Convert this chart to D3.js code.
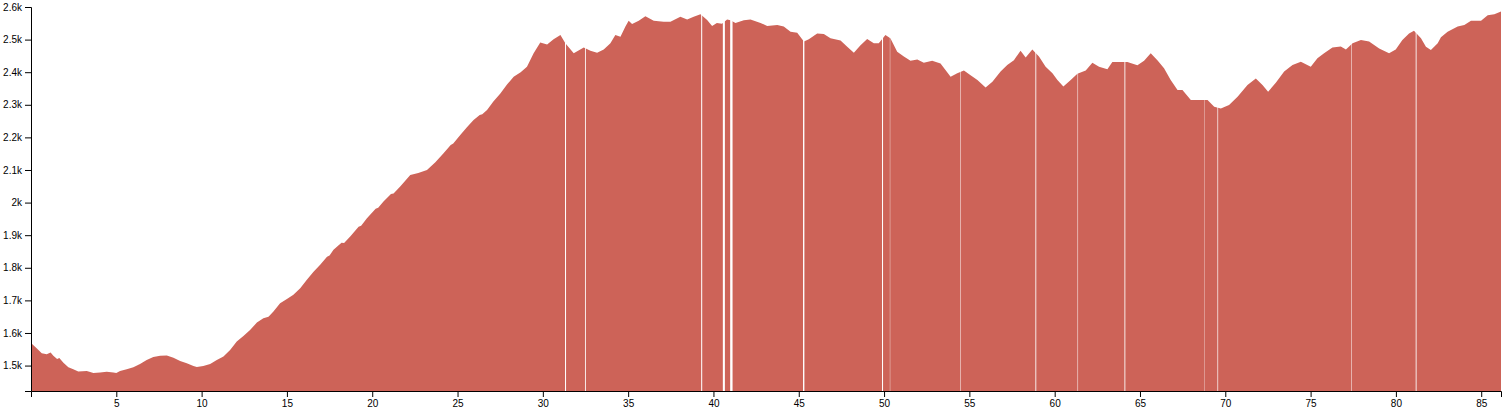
<!DOCTYPE html>
<html>
<head>
<meta charset="utf-8">
<script src="https://cdn.jsdelivr.net/npm/d3@7/dist/d3.min.js"></script>
<style>
  html, body { margin: 0; padding: 0; background: #fff; }
  svg { display: block; }
</style>
</head>
<body>
<svg id="chart" width="1503" height="413"></svg>
<script>
// distance along route (km)
const distance = [
  0, 0.33, 0.63, 0.92, 1.15, 1.31, 1.53, 1.66, 1.9, 2.19, 2.48, 2.77, 3.27, 3.66, 4.05, 4.44, 4.83, 5.0,
  5.22, 5.61, 6.0, 6.39, 6.78, 7.17, 7.57, 7.96, 8.35, 8.74, 9.13, 9.52, 9.72, 10.1, 10.5, 10.89, 11.28,
  11.67, 12.06, 12.45, 12.84, 13.24, 13.62, 13.92, 14.21, 14.6, 15.0, 15.38, 15.78, 16.17, 16.56, 16.95,
  17.35, 17.5, 17.73, 18.2, 18.35, 18.71, 19.2, 19.35, 19.69, 20.2, 20.35, 20.66, 21.1, 21.25, 21.64, 22.23,
  22.7, 23.21, 23.7, 24.18, 24.6, 24.75, 25.16, 25.55, 25.94, 26.3, 26.45, 26.73, 27.1, 27.51, 27.9, 28.29,
  28.7, 29.07, 29.46, 29.85, 30.25, 30.63, 31.03, 31.32, 31.81, 32.4, 32.79, 33.18, 33.57, 33.96, 34.25,
  34.55, 34.84, 35.03, 35.23, 35.62, 36.01, 36.5, 37.08, 37.48, 38.06, 38.46, 38.84, 39.24, 39.63, 39.92,
  40.2, 40.5, 40.8, 41.0, 41.29, 41.78, 42.17, 42.76, 43.15, 43.74, 44.12, 44.52, 44.91, 45.3, 45.59, 46.08,
  46.47, 46.86, 47.45, 47.84, 48.23, 48.62, 49.01, 49.4, 49.69, 50.08, 50.37, 50.77, 51.16, 51.55, 51.95,
  52.33, 52.82, 53.31, 53.6, 53.9, 54.29, 54.68, 55.07, 55.47, 55.95, 56.35, 56.83, 57.22, 57.61, 58.0,
  58.3, 58.69, 59.08, 59.47, 59.87, 60.16, 60.51, 60.94, 61.33, 61.82, 62.21, 62.6, 63.09, 63.38, 63.87,
  64.26, 64.85, 65.24, 65.63, 66.02, 66.41, 66.8, 67.2, 67.49, 67.98, 68.37, 68.96, 69.35, 69.74, 70.22,
  70.72, 71.3, 71.79, 72.18, 72.51, 72.96, 73.45, 73.94, 74.43, 75.01, 75.4, 75.79, 76.28, 76.77, 77.07,
  77.46, 77.95, 78.43, 79.02, 79.6, 79.99, 80.38, 80.77, 81.06, 81.47, 81.76, 82.05, 82.45, 82.64, 83.03,
  83.62, 84.01, 84.4, 84.99, 85.38, 85.77, 86.16
];
// elevation (m)
const elevation = [
  1569, 1553, 1538, 1535, 1540, 1530, 1520, 1523, 1509, 1495, 1489, 1482, 1483, 1477, 1479, 1481, 1479, 1477,
  1483, 1489, 1495, 1505, 1517, 1526, 1530, 1531, 1524, 1514, 1507, 1499, 1496, 1499, 1505, 1517, 1528,
  1548, 1574, 1591, 1609, 1632, 1645, 1650, 1666, 1691, 1704, 1717, 1737, 1763, 1788, 1809,
  1834, 1838, 1855, 1877, 1876, 1896, 1926, 1929, 1952, 1981, 1984, 2003, 2026, 2028, 2049, 2085,
  2091, 2100, 2124, 2151, 2177, 2181, 2207, 2231, 2253, 2269, 2271, 2284, 2310, 2335, 2362, 2386,
  2400, 2417, 2458, 2491, 2485, 2501, 2514, 2489, 2458, 2476, 2466, 2460, 2470, 2489, 2514,
  2509, 2540, 2558, 2548, 2558, 2572, 2558, 2555, 2555, 2570, 2562, 2570, 2578, 2560, 2542,
  2551, 2549, 2562, 2559, 2551, 2559, 2562, 2551, 2542, 2545, 2540, 2524, 2521, 2494, 2501, 2519,
  2517, 2504, 2497, 2478, 2460, 2483, 2502, 2489, 2489, 2514, 2504, 2463, 2448, 2435, 2439,
  2429, 2435, 2427, 2407, 2386, 2397, 2405, 2391, 2376, 2353, 2371, 2402, 2422, 2437, 2466,
  2445, 2470, 2448, 2417, 2397, 2376, 2356, 2376, 2395, 2405, 2429, 2417, 2409, 2431, 2431,
  2431, 2421, 2435, 2458, 2437, 2412, 2376, 2345, 2345, 2315, 2315, 2315, 2294, 2289, 2299,
  2325, 2361, 2381, 2361, 2340, 2368, 2402, 2422, 2432, 2417, 2443, 2458, 2476, 2479, 2470,
  2489, 2499, 2494, 2473, 2458, 2470, 2499, 2519, 2527, 2504, 2478, 2468, 2489, 2507, 2524,
  2540, 2545, 2558, 2558, 2575, 2578, 2586
];
// breaks in the recorded track (km ranges with no data)
const gapStart = [31.30, 32.47, 39.28, 40.55, 40.98, 45.25, 49.88, 50.34, 54.48, 58.87, 61.34, 64.09, 68.78, 69.54, 77.37, 81.16];
const gapEnd   = [31.36, 32.52, 39.34, 40.67, 41.12, 45.33, 49.94, 50.36, 54.51, 58.92, 61.37, 64.14, 68.80, 69.58, 77.40, 81.21];
const xTickValues = [5, 10, 15, 20, 25, 30, 35, 40, 45, 50, 55, 60, 65, 70, 75, 80, 85];
const yTickValues = [1500, 1600, 1700, 1800, 1900, 2000, 2100, 2200, 2300, 2400, 2500, 2600];

const data = distance.map((d, i) => ({ km: d, ele: elevation[i] }));
const gaps = gapStart.map((s, i) => [s, gapEnd[i]]);

const margin = { top: 7, right: 2, bottom: 22, left: 31 };
const W = 1503, H = 413;
const svg = d3.select("#chart");
const innerW = W - margin.left - margin.right;
const innerH = H - margin.top - margin.bottom;

const x = d3.scaleLinear().domain([0, d3.max(distance)]).range([0, innerW]);
const y = d3.scaleLinear().domain([1422, 2600]).range([innerH, 0]);

const g = svg.append("g").attr("transform", `translate(${margin.left},${margin.top})`);

const area = d3.area()
  .x(d => x(d.km))
  .y0(innerH)
  .y1(d => y(d.ele));

g.append("path")
  .datum(data)
  .attr("fill", "#cd6358")
  .attr("d", area);

// gaps in the track
g.selectAll("rect.gap")
  .data(gaps)
  .join("rect")
  .attr("class", "gap")
  .attr("x", d => x(d[0]))
  .attr("width", d => x(d[1]) - x(d[0]))
  .attr("y", 0)
  .attr("height", innerH)
  .attr("fill", "#fff");

g.append("g")
  .attr("transform", `translate(0,${innerH})`)
  .call(d3.axisBottom(x).tickValues(xTickValues));

g.append("g")
  .call(d3.axisLeft(y).tickValues(yTickValues).tickFormat(d3.format("~s")));
</script>
</body>
</html>
